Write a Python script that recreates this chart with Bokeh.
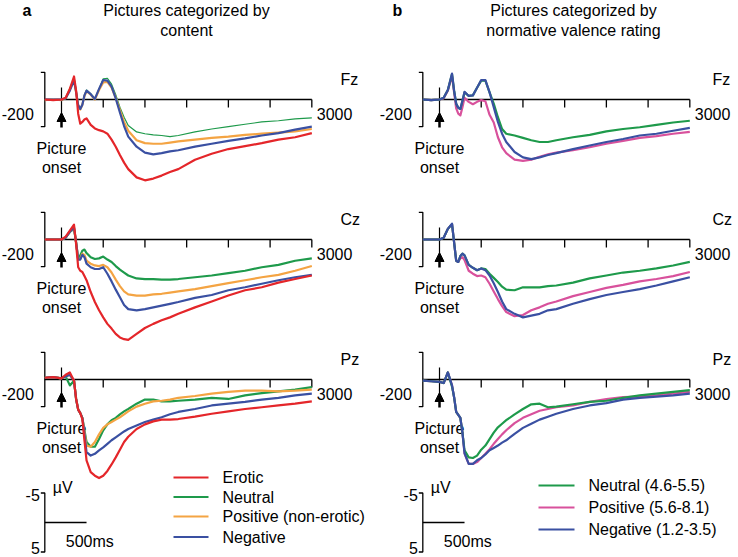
from bokeh.plotting import figure
from bokeh.layouts import row
from bokeh.models import Range1d, Arrow, NormalHead
from bokeh.embed import file_html
from bokeh.resources import INLINE
from bokeh.core.properties import value

# ---------------- data ----------------
times = [-200, -100, 0, 50, 100, 150, 175, 200, 225, 250, 275, 300, 350, 400, 450, 500,
         550, 600, 650, 700, 750, 800, 900, 1000, 1100, 1200, 1300, 1400, 1600, 1800,
         2000, 2200, 2400, 2600, 2800, 3000]

electrodes = ["Fz", "Cz", "Pz"]

# panel a : content categories
a_labels = ["Erotic", "Neutral", "Positive (non-erotic)", "Negative"]
a_fz_erotic = [0, 0.1, 0, -0.3, -1.8, -3.9, -1.5, 2.4, 4.1, 3.8, 3.4, 3.2, 4.3, 4.9, 5.2, 5.4, 5.8, 6.8, 8.0, 9.4, 10.7, 11.8, 13.2, 13.7, 13.4, 12.9, 12.3, 11.8, 10.2, 9.2, 8.4, 7.9, 7.4, 6.8, 6.4, 5.7]
a_fz_neutral = [0, 0, 0.1, -0.3, -1.5, -3.5, -1.5, 0.8, 1.5, 0.8, -0.8, -1.6, -1.0, -0.1, -1.8, -3.5, -3.6, -2.6, -0.8, 1.3, 3.0, 4.4, 5.5, 5.8, 6.0, 6.1, 6.3, 6.1, 5.5, 5.0, 4.6, 4.2, 3.8, 3.6, 3.3, 3.1]
a_fz_positive = [0.1, 0, 0.1, -0.2, -1.8, -3.2, -1.2, 1.0, 1.7, 0.9, -0.6, -1.4, -0.8, 0.0, -1.6, -2.9, -3.0, -2.0, -0.3, 1.8, 3.8, 5.3, 6.9, 7.4, 7.5, 7.5, 7.3, 7.1, 6.8, 6.5, 6.3, 6.0, 5.8, 5.6, 5.4, 5.0]
a_fz_negative = [0, 0, 0, -0.2, -1.5, -3.3, -1.3, 1.0, 1.6, 0.9, -0.7, -1.5, -0.9, -0.1, -1.8, -3.3, -3.2, -2.2, -0.2, 2.2, 4.5, 6.3, 8.0, 9.0, 9.3, 9.1, 8.8, 8.6, 8.0, 7.5, 7.0, 6.6, 6.1, 5.7, 5.1, 4.6]

a_cz_erotic = [0, 0, 0, -0.5, -1.5, -2.5, 0.8, 4.7, 5.3, 5.5, 6.2, 6.9, 8.9, 10.6, 12.0, 13.2, 14.3, 15.1, 16.0, 16.6, 16.9, 17.0, 16.0, 15.0, 14.3, 13.7, 13.2, 12.6, 11.5, 10.5, 9.5, 8.6, 8.1, 7.3, 6.7, 6.1]
a_cz_neutral = [0, 0, 0, -0.3, -1.3, -1.8, 0.5, 3.3, 2.7, 1.9, 1.7, 2.3, 3.0, 3.3, 3.2, 2.9, 3.4, 3.8, 4.5, 5.1, 5.6, 6.1, 6.6, 6.7, 6.7, 6.8, 6.8, 6.7, 6.4, 6.1, 5.7, 5.3, 4.7, 4.3, 3.6, 3.2]
a_cz_positive = [0, 0, 0, -0.3, -1.3, -2.0, 0.5, 3.4, 3.3, 2.4, 2.6, 3.6, 4.1, 4.4, 4.5, 4.3, 4.7, 5.6, 6.8, 7.9, 8.8, 9.3, 9.5, 9.5, 9.3, 9.2, 9.0, 8.8, 8.4, 7.9, 7.4, 6.9, 6.4, 6.0, 5.3, 4.5]
a_cz_negative = [0, 0, 0, -0.3, -1.3, -2.0, 0.5, 3.4, 3.4, 2.6, 3.0, 4.1, 4.7, 5.0, 5.0, 4.7, 5.8, 7.1, 8.5, 9.8, 11.1, 11.8, 12.0, 11.8, 11.5, 11.2, 10.9, 10.6, 9.9, 9.4, 8.6, 8.1, 7.5, 6.9, 6.4, 6.0]

a_pz_erotic = [-0.3, -0.4, -0.2, -0.8, -1.2, 0.2, 3.3, 5.1, 5.7, 6.7, 10.3, 13.7, 15.7, 16.3, 16.7, 16.3, 15.5, 14.4, 13.2, 11.9, 10.6, 9.7, 8.4, 7.6, 7.1, 6.8, 6.8, 6.7, 6.3, 5.8, 5.4, 5.0, 4.7, 4.4, 4.1, 3.7]
a_pz_neutral = [-0.3, -0.4, -0.2, -0.5, 1.0, 0.2, 3.3, 5.1, 5.7, 6.5, 8.6, 10.6, 11.4, 11.4, 10.1, 8.6, 7.6, 6.9, 6.5, 5.9, 5.4, 5.0, 4.1, 3.4, 3.4, 3.7, 3.7, 3.6, 3.4, 3.1, 3.3, 2.7, 2.3, 2.0, 1.7, 1.3]
a_pz_positive = [-0.3, -0.4, -0.2, -0.5, -0.8, 0.2, 3.3, 5.1, 5.7, 6.5, 8.9, 11.2, 11.4, 10.6, 9.3, 8.2, 7.6, 7.2, 6.8, 6.4, 5.9, 5.4, 4.6, 4.1, 3.7, 3.6, 3.4, 3.1, 2.8, 2.4, 2.1, 1.9, 1.9, 2.0, 1.9, 1.7]
a_pz_negative = [-0.3, -0.4, -0.2, -0.5, -0.8, 0.2, 3.3, 5.1, 5.7, 6.5, 9.2, 12.3, 12.9, 12.6, 12.0, 11.5, 10.9, 10.3, 9.8, 9.3, 8.8, 8.4, 7.8, 7.2, 6.8, 6.4, 5.9, 5.5, 5.0, 4.4, 4.1, 3.8, 3.4, 3.1, 2.7, 2.4]

# panel b : normative valence categories
b_labels = ["Neutral (4.6-5.5)", "Positive (5.6-8.1)", "Negative (1.2-3.5)"]
b_fz_neutral = [0, 0.1, 0, -0.3, -1.6, -4.3, -1.5, 0.7, 1.4, 1.6, 0.2, -1.2, -0.6, -0.7, -2.0, -3.2, -3.2, -1.2, 0.7, 3.0, 5.0, 5.8, 6.1, 6.5, 6.9, 7.2, 7.2, 6.9, 6.4, 6.0, 5.4, 5.0, 4.7, 4.3, 3.9, 3.6]
b_fz_positive = [0, 0.1, 0, -0.2, -1.5, -4.0, -1.2, 1.5, 2.4, 2.7, 1.3, -0.3, 0.4, 0.8, 0.4, 0.1, 0.3, 2.6, 3.9, 6.4, 8.1, 9.1, 10.2, 10.4, 10.2, 9.7, 9.3, 9.0, 8.6, 8.1, 7.5, 7.0, 6.5, 6.2, 5.8, 5.5]
b_fz_negative = [0, 0.1, 0, -0.3, -1.6, -4.4, -1.5, 0.7, 1.4, 1.6, 0.2, -1.3, -0.6, -0.7, -2.0, -3.3, -3.3, -1.2, 1.3, 3.8, 5.8, 7.2, 8.9, 9.8, 10.1, 9.8, 9.4, 9.1, 8.4, 7.8, 7.2, 6.7, 6.1, 5.8, 5.3, 4.8]

b_cz_neutral = [0, 0, 0, -0.3, -1.8, -2.6, 0.5, 3.6, 3.8, 2.8, 2.4, 2.7, 4.3, 4.8, 5.2, 4.9, 5.0, 5.8, 6.5, 7.2, 8.0, 8.5, 8.6, 8.1, 8.1, 8.1, 7.9, 7.8, 7.3, 6.6, 6.1, 5.6, 5.3, 4.9, 4.4, 3.8]
b_cz_positive = [0, 0, 0, -0.3, -1.8, -2.6, 0.5, 3.6, 3.8, 3.2, 3.0, 3.5, 5.3, 5.8, 6.2, 6.1, 6.4, 7.5, 8.8, 10.1, 11.3, 12.3, 13.0, 12.8, 12.0, 11.5, 10.9, 10.5, 9.6, 8.9, 8.2, 7.7, 7.1, 6.7, 6.2, 5.5]
b_cz_negative = [0, 0, 0, -0.3, -1.8, -2.7, 0.5, 3.6, 3.8, 2.8, 2.4, 2.7, 4.3, 4.8, 5.2, 4.9, 5.2, 6.1, 7.4, 8.9, 10.5, 11.8, 12.6, 13.2, 12.9, 12.6, 12.0, 11.8, 10.9, 10.1, 9.4, 8.9, 8.4, 7.8, 7.1, 6.4]

b_pz_neutral = [0.2, 0.3, 0.4, 0.6, -1.2, 1.2, 3.0, 5.5, 6.0, 6.5, 9.0, 12.0, 13.2, 13.3, 12.9, 11.9, 11.2, 10.1, 9.0, 8.1, 7.5, 6.9, 5.9, 5.0, 4.2, 4.1, 4.7, 4.6, 4.2, 3.8, 3.6, 3.1, 2.7, 2.4, 2.1, 1.8]
b_pz_positive = [0.2, 0.3, 0.4, 0.6, -1.2, 1.0, 3.0, 5.5, 6.0, 6.5, 9.0, 12.5, 14.3, 14.3, 14.0, 13.3, 12.6, 11.8, 10.9, 10.1, 9.3, 8.6, 7.4, 6.5, 5.9, 5.3, 5.0, 4.7, 4.4, 3.8, 3.3, 3.0, 2.9, 2.7, 2.4, 2.1]
b_pz_negative = [0.2, 0.3, 0.4, 0.6, -1.2, 1.0, 3.0, 5.5, 6.0, 6.5, 9.0, 12.5, 14.3, 14.3, 13.7, 13.3, 12.7, 12.0, 11.6, 11.2, 10.7, 10.3, 9.2, 8.2, 7.5, 6.8, 6.3, 5.8, 5.0, 4.4, 4.0, 3.4, 3.1, 2.9, 2.7, 2.4]

tick_times = [500, 1000, 1500, 2000, 2500, 3000]
t_start, t_end = -200, 3000
scale_uv = 5          # scale bar half-height (µV)
scale_ms = 500        # scale bar length (ms)
bracket_uv = 4.6

# ---------------- styles / layout (reference pixels) ----------------
RED, GREEN, ORANGE, BLUE, PINK = "#e4262a", "#1e9a4b", "#f4a443", "#3a50a2", "#d8519c"
FONT = value("Liberation Sans")
FS = "16px"

PX_MS = 0.08344          # px per ms
PX_UV = 5.9              # px per µV
H = 557
WL, WR = 370, 368
ROW_BASE = [99, 239, 379]
ONSET_X = [61, 439]


def X(c, rx):
    return (rx - ONSET_X[c]) / PX_MS


def Y(ry):
    return (ry - ROW_BASE[0]) / PX_UV


def dms(px):
    return px / PX_MS


def duv(px):
    return px / PX_UV


def make_fig(c, width, rx0, rx1):
    p = figure(width=width, height=H,
               x_range=Range1d(X(c, rx0), X(c, rx1)),
               y_range=Range1d(Y(H), Y(0)),
               output_backend="svg", toolbar_location=None,
               x_axis_location=None, y_axis_location=None,
               min_border=0, min_border_left=0, min_border_right=0,
               min_border_top=0, min_border_bottom=0)
    p.grid.visible = False
    p.outline_line_color = None
    p.background_fill_color = "white"
    p.border_fill_color = "white"
    return p


def txt(p, x, y, s, align="left", bold=False, size=FS):
    p.text(x=x, y=y, text=s, text_font=FONT, text_font_size=size,
           text_align=align, text_baseline="middle", text_color="black",
           text_font_style="bold" if bold else "normal")


def panel_frame(p, c, r):
    o = duv(ROW_BASE[r] - ROW_BASE[0])
    k = "black"
    p.line([t_start, t_end], [o, o], line_color=k, line_width=1.3)
    p.segment(x0=tick_times, y0=[o] * len(tick_times), x1=tick_times,
              y1=[o + duv(8)] * len(tick_times), line_color=k, line_width=1.3)
    st = dms(4)
    p.line([t_start - st, t_start, t_start, t_start - st],
           [o - bracket_uv, o - bracket_uv, o + bracket_uv, o + bracket_uv],
           line_color=k, line_width=1.3)
    # onset marker and arrow
    p.segment(x0=[0], y0=[o - duv(12)], x1=[0], y1=[o + duv(14)], line_color=k, line_width=1.2)
    p.add_layout(Arrow(end=NormalHead(size=9, fill_color=k, line_color=k, line_width=1),
                       x_start=0, y_start=o + duv(28), x_end=0, y_end=o + duv(13),
                       line_color=k, line_width=2.5))
    txt(p, [t_start - dms(11)], [o + duv(14)], [str(t_start)], align="right")
    txt(p, [t_end + dms(5)], [o + duv(14)], [str(t_end)], align="left")
    ex = 340 if c == 0 else 712
    txt(p, [X(c, ex)], [o - duv(20)], [electrodes[r]], align="left")
    txt(p, [0, 0], [o + duv(49), o + duv(68)], ["Picture", "onset"], align="center")


def traces(p, r, series):
    o = duv(ROW_BASE[r] - ROW_BASE[0])
    for vals, color, lw in series:
        p.line(times, [v + o for v in vals], line_color=color, line_width=lw,
               line_join="round")


def scale_bar(p):
    cy = Y(522)
    k = "black"
    st = dms(4)
    p.line([t_start - st, t_start, t_start, t_start - st],
           [cy - scale_uv, cy - scale_uv, cy + scale_uv, cy + scale_uv],
           line_color=k, line_width=1.3)
    p.line([t_start, t_start + scale_ms], [cy, cy], line_color=k, line_width=1.3)
    txt(p, [t_start - st - dms(1)] * 2, [cy - scale_uv + duv(2), cy + scale_uv - duv(4)],
        [str(-scale_uv), str(scale_uv)], align="right")
    txt(p, [t_start + dms(8)], [Y(487)], ["\u00b5V"])
    txt(p, [t_start + dms(21)], [Y(541)], [f"{scale_ms}ms"])


def legend(p, c, labels, colors, x0, x1, xt, ys):
    for lab, col, ry in zip(labels, colors, ys):
        p.line([X(c, x0), X(c, x1)], [Y(ry), Y(ry)], line_color=col, line_width=2.2)
        txt(p, [X(c, xt)], [Y(ry)], [lab])


# ---------------- panel a ----------------
pa = make_fig(0, WL, 0, WL)
txt(pa, [X(0, 22)], [Y(9.5)], ["a"], bold=True)
txt(pa, [X(0, 186)] * 2, [Y(9.5), Y(29.5)], ["Pictures categorized by", "content"], align="center")
a_data = [
    [a_fz_neutral, a_fz_positive, a_fz_negative, a_fz_erotic],
    [a_cz_neutral, a_cz_positive, a_cz_negative, a_cz_erotic],
    [a_pz_neutral, a_pz_positive, a_pz_negative, a_pz_erotic],
]
for r in range(3):
    panel_frame(pa, 0, r)
    g_lw = 1.2 if r == 0 else 2.2
    n, po, ne, er = a_data[r]
    traces(pa, r, [(n, GREEN, g_lw), (po, ORANGE, 2.2), (ne, BLUE, 2.2), (er, RED, 2.2)])
scale_bar(pa)
legend(pa, 0, a_labels, [RED, GREEN, ORANGE, BLUE], 173, 208, 222, [477, 496.5, 516, 536.5])

# ---------------- panel b ----------------
pb = make_fig(1, WR, WL, WL + WR)
txt(pb, [X(1, 392)], [Y(9.5)], ["b"], bold=True)
txt(pb, [X(1, 573)] * 2, [Y(9.5), Y(29.5)], ["Pictures categorized by", "normative valence rating"], align="center")
b_data = [
    [b_fz_neutral, b_fz_positive, b_fz_negative],
    [b_cz_neutral, b_cz_positive, b_cz_negative],
    [b_pz_neutral, b_pz_positive, b_pz_negative],
]
for r in range(3):
    panel_frame(pb, 1, r)
    n, po, ne = b_data[r]
    traces(pb, r, [(po, PINK, 2.2), (n, GREEN, 2.2), (ne, BLUE, 2.2)])
scale_bar(pb)
legend(pb, 1, b_labels, [GREEN, PINK, BLUE], 538, 574, 588, [485, 507, 529])

layout = row(pa, pb)
layout.spacing = 0

open("out.html", "w").write(file_html(layout, INLINE))
